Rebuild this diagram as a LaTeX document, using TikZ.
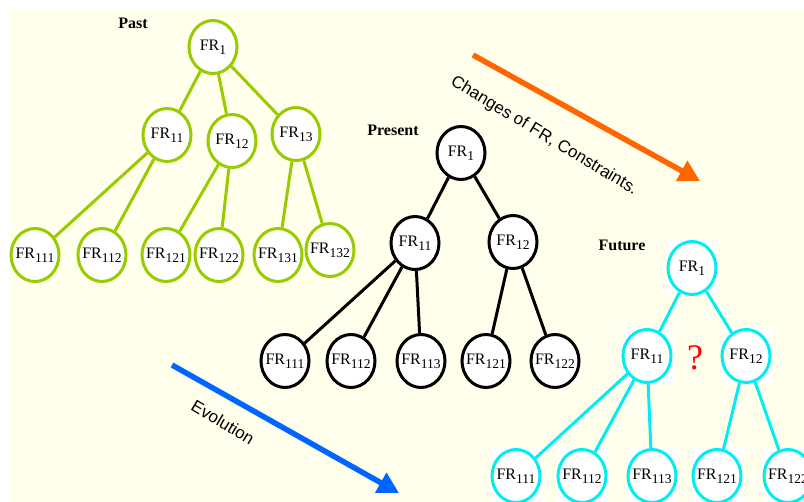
\documentclass[tikz,border=0pt]{standalone}
\usepackage{fontspec}
\setmainfont{Liberation Serif}
\newfontfamily\arrowfont{Liberation Sans}
\usetikzlibrary{shapes.geometric,arrows.meta,backgrounds}
\definecolor{bgyellow}{RGB}{255,255,236}
\definecolor{pastgreen}{RGB}{153,204,0}
\definecolor{futurecyan}{RGB}{0,238,242}
\definecolor{evoblue}{RGB}{0,102,255}
\definecolor{chgorange}{RGB}{255,102,0}
\newcommand{\FR}[1]{\makebox[0pt]{FR\raisebox{-4pt}{\fontsize{13.5}{14}\selectfont #1}}}
\tikzset{
    frnode/.style={ellipse,draw,fill=white,line width=3pt,minimum width=48pt,minimum height=53pt,inner sep=0pt,font=\fontsize{16}{18}\selectfont},
    pastnode/.style={frnode,draw=pastgreen},
    presnode/.style={frnode,draw=black},
    futnode/.style={frnode,draw=futurecyan},
    timelabel/.style={font=\fontsize{16}{19}\selectfont\bfseries},
    bigarrow/.style={line width=5.5pt,-{Triangle[length=21pt,width=22pt]}},
    arrowlabel/.style={font=\fontsize{17}{19}\selectfont\arrowfont,rotate=-31}
}
\begin{document}
\begin{tikzpicture}[x=1pt,y=-1pt]
    \useasboundingbox (0,0) rectangle (804,502);

    % Past
    \node[timelabel] (past) at (133,23) {Past};
    \node[pastnode] (p1) at (213,47) {\FR{1}};
    \node[pastnode] (p11) at (167,135) {\FR{11}};
    \node[pastnode] (p12) at (232,141) {\FR{12}};
    \node[pastnode] (p13) at (296,134) {\FR{13}};
    \node[pastnode] (p111) at (35,255) {\FR{111}};
    \node[pastnode] (p112) at (102,255) {\FR{112}};
    \node[pastnode] (p121) at (166,255) {\FR{121}};
    \node[pastnode] (p122) at (219,255) {\FR{122}};
    \node[pastnode] (p131) at (278,255) {\FR{131}};
    \node[pastnode] (p132) at (330,250) {\FR{132}};

    % Present
    \node[timelabel] (present) at (393,130) {Present};
    \node[presnode] (c1) at (461,153) {\FR{1}};
    \node[presnode] (c11) at (415,243) {\FR{11}};
    \node[presnode] (c12) at (513,242) {\FR{12}};
    \node[presnode] (c111) at (285,361) {\FR{111}};
    \node[presnode] (c112) at (351,361) {\FR{112}};
    \node[presnode] (c113) at (421,361) {\FR{113}};
    \node[presnode] (c121) at (486,361) {\FR{121}};
    \node[presnode] (c122) at (555,361) {\FR{122}};

    % Future
    \node[timelabel] (future) at (622,245) {Future};
    \node[futnode] (f1) at (692,268) {\FR{1}};
    \node[futnode] (f11) at (647,356) {\FR{11}};
    \node[futnode] (f12) at (746,356) {\FR{12}};
    \node[futnode] (f111) at (516,476) {\FR{111}};
    \node[futnode] (f112) at (582,476) {\FR{112}};
    \node[futnode] (f113) at (652,476) {\FR{113}};
    \node[futnode] (f121) at (717,476) {\FR{121}};
    \node[futnode] (f122) at (788,476) {\FR{122}};
    \node[text=red,font=\fontsize{36}{36}\selectfont] (qmark) at (695,358) {?};

    \foreach \a/\b in {p1/p11,p1/p12,p1/p13,p11/p111,p11/p112,p12/p121,p12/p122,p13/p131,p13/p132} {
    \draw[pastgreen,line width=3pt] (\a) -- (\b);
    }
    \foreach \a/\b in {1/11,1/12,11/111,11/112,11/113,12/121,12/122} {
    \draw[black,line width=3pt] (c\a) -- (c\b);
    \draw[futurecyan,line width=3pt] (f\a) -- (f\b);
    }

    % arrows
    \coordinate (chgstart) at (473,55);
    \coordinate (chgend) at (700,181);
    \coordinate (evostart) at (172,365);
    \coordinate (evoend) at (399,493);
    \draw[chgorange,bigarrow] (chgstart) -- (chgend);
    \draw[evoblue,bigarrow] (evostart) -- (evoend);
    \node[arrowlabel] (chglabel) at (544,136) {Changes of FR, Constraints.};
    \node[arrowlabel] (evolabel) at (223,422) {Evolution};

    \begin{scope}[on background layer]
    \fill[bgyellow] (10,9) rectangle (804,502);
    \foreach \n in {f1,f11,f12,f111,f112,f113,f121,f122} {
    \fill[white] (\n.west |- \n.north) rectangle (\n.east |- \n.south);
    }
    \end{scope}
\end{tikzpicture}
\end{document}
